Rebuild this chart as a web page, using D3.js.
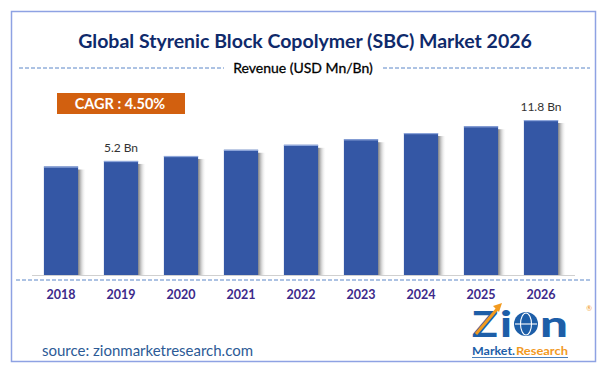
<!DOCTYPE html>
<html>
<head>
<meta charset="utf-8">
<script src="https://cdn.jsdelivr.net/npm/d3@7"></script>
<style>
  body { margin: 0; background: #fff; }
  text { font-family: Lato, "Open Sans", sans-serif; }
</style>
</head>
<body>
<div id="chart"></div>
<script>
const years = ["2018", "2019", "2020", "2021", "2022", "2023", "2024", "2025", "2026"];
const revenue = [4.3, 5.2, 6.0, 7.0, 7.8, 8.7, 9.7, 10.8, 11.8];
const valueLabels = ["", "5.2 Bn", "", "", "", "", "", "", "11.8 Bn"];

const width = 606, height = 372;
const baseY = 275;

const svg = d3.select("#chart").append("svg")
    .attr("width", width)
    .attr("height", height);

svg.append("rect").attr("width", width).attr("height", height).attr("fill", "#fff");

// shadow gradient for the bars
const defs = svg.append("defs");
const grad = defs.append("linearGradient").attr("id", "shade");
grad.append("stop").attr("offset", "0%").attr("stop-color", "#7a7a7a");
grad.append("stop").attr("offset", "100%").attr("stop-color", "#fff").attr("stop-opacity", 0);

// frame
svg.append("rect")
    .attr("x", 11.5).attr("y", 11.5)
    .attr("width", 584).attr("height", 350)
    .attr("fill", "none")
    .attr("stroke", "#8ea2e3")
    .attr("stroke-width", 1.5);

svg.append("text")
    .attr("x", 305).attr("y", 48)
    .attr("text-anchor", "middle")
    .attr("font-size", 19.5).attr("font-weight", "bold")
    .attr("fill", "#0f2a6b")
    .text("Global Styrenic Block Copolymer (SBC) Market 2026");

svg.append("text")
    .attr("x", 303).attr("y", 73)
    .attr("text-anchor", "middle")
    .attr("font-size", 14)
    .attr("fill", "#000")
    .attr("stroke", "#000").attr("stroke-width", 0.3)
    .text("Revenue (USD Mn/Bn)");

[[19, 224], [383, 590]].forEach(([a, b]) => {
    svg.append("line")
        .attr("x1", a).attr("x2", b).attr("y1", 68).attr("y2", 68)
        .attr("stroke", "#5b86c8").attr("stroke-dasharray", "4,2");
});

// CAGR badge
svg.append("rect")
    .attr("x", 57).attr("y", 93).attr("width", 128).attr("height", 21)
    .attr("fill", "#d2600f");
svg.append("text")
    .attr("x", 120).attr("y", 109)
    .attr("text-anchor", "middle")
    .attr("font-size", 14.5).attr("font-weight", "bold")
    .attr("fill", "#fff")
    .text("CAGR : 4.50%");

const x = d3.scaleBand()
    .domain(years)
    .range([31, 571])
    .paddingInner(0.43)
    .paddingOuter(0.215);

const y = d3.scaleLinear()
    .domain([-13.2, 11.8])
    .range([baseY, 120]);

const bars = svg.append("g")
    .selectAll("g")
    .data(years.map((yr, i) => ({ year: yr, value: revenue[i], label: valueLabels[i] })))
    .join("g");

bars.append("rect")
    .attr("x", d => x(d.year) + x.bandwidth())
    .attr("y", d => y(d.value) + 3)
    .attr("width", 8)
    .attr("height", d => baseY - y(d.value) - 3)
    .attr("fill", "url(#shade)");

bars.append("rect")
    .attr("x", d => x(d.year))
    .attr("y", d => y(d.value))
    .attr("width", x.bandwidth())
    .attr("height", d => baseY - y(d.value))
    .attr("fill", "#3457a5");

bars.append("rect")
    .attr("x", d => x(d.year))
    .attr("y", d => y(d.value))
    .attr("width", x.bandwidth())
    .attr("height", 1.2)
    .attr("fill", "#8ea6da");

bars.append("text")
    .attr("x", d => x(d.year) + x.bandwidth() / 2)
    .attr("y", d => y(d.value) - 9)
    .attr("text-anchor", "middle")
    .attr("font-size", 12)
    .attr("fill", "#333")
    .text(d => d.label);

svg.append("line")
    .attr("x1", 32).attr("x2", 575).attr("y1", baseY + 0.5).attr("y2", baseY + 0.5)
    .attr("stroke", "#d0d0d0");

svg.append("line")
    .attr("x1", 16).attr("x2", 592).attr("y1", 280).attr("y2", 280)
    .attr("stroke", "#5b86c8").attr("stroke-dasharray", "4,2");

const xAxis = svg.append("g")
    .attr("transform", `translate(0,${baseY})`)
    .call(d3.axisBottom(x).tickSize(0).tickPadding(15));
xAxis.select(".domain").remove();
xAxis.selectAll("text")
    .attr("font-family", "Lato, sans-serif")
    .attr("font-size", 12.5).attr("font-weight", "bold")
    .attr("fill", "#3c2a8a");

svg.append("text")
    .attr("x", 42).attr("y", 356)
    .attr("font-size", 15)
    .attr("fill", "#2c5a96")
    .text("source: zionmarketresearch.com");

// logo
const blue = "#1d5ea8", orange = "#f29a1f";
const logo = svg.append("g");
const letter = (ch, lx, w) => logo.append("text")
    .attr("x", lx).attr("y", 337)
    .attr("font-size", 36).attr("font-weight", "900")
    .attr("fill", blue)
    .attr("textLength", w).attr("lengthAdjust", "spacingAndGlyphs")
    .text(ch);
letter("Z", 472, 26);
letter("i", 500, 12);
logo.append("circle")
    .attr("cx", 526).attr("cy", 324).attr("r", 12)
    .attr("fill", blue);
logo.append("ellipse")
    .attr("cx", 526).attr("cy", 324).attr("rx", 5.5).attr("ry", 11)
    .attr("fill", "none").attr("stroke", "#fff").attr("stroke-width", 1.1);
logo.append("line")
    .attr("x1", 515).attr("x2", 537).attr("y1", 324).attr("y2", 324)
    .attr("stroke", "#fff").attr("stroke-width", 1.1);
letter("n", 540, 28);
logo.append("line")
    .attr("x1", 476).attr("y1", 334).attr("x2", 498).attr("y2", 308)
    .attr("stroke", orange).attr("stroke-width", 3);
logo.append("path")
    .attr("d", "M 502 303 L 493 306 L 499 312 Z")
    .attr("fill", orange);
logo.append("text")
    .attr("x", 592).attr("y", 311)
    .attr("font-size", 7)
    .attr("fill", orange)
    .attr("text-anchor", "end")
    .text("®");
const mk = logo.append("text")
    .attr("x", 472).attr("y", 355)
    .attr("font-size", 12).attr("font-weight", "bold")
    .attr("fill", blue)
    .attr("textLength", 43).attr("lengthAdjust", "spacingAndGlyphs")
    .text("Market.");
logo.append("text")
    .attr("x", 516)
    .attr("y", 355)
    .attr("font-size", 12).attr("font-weight", "bold")
    .attr("fill", orange)
    .attr("textLength", 52).attr("lengthAdjust", "spacingAndGlyphs")
    .text("Research");
logo.append("line")
    .attr("x1", 472).attr("x2", 568).attr("y1", 357.5).attr("y2", 357.5)
    .attr("stroke", blue).attr("stroke-width", 0.8);
</script>
</body>
</html>
